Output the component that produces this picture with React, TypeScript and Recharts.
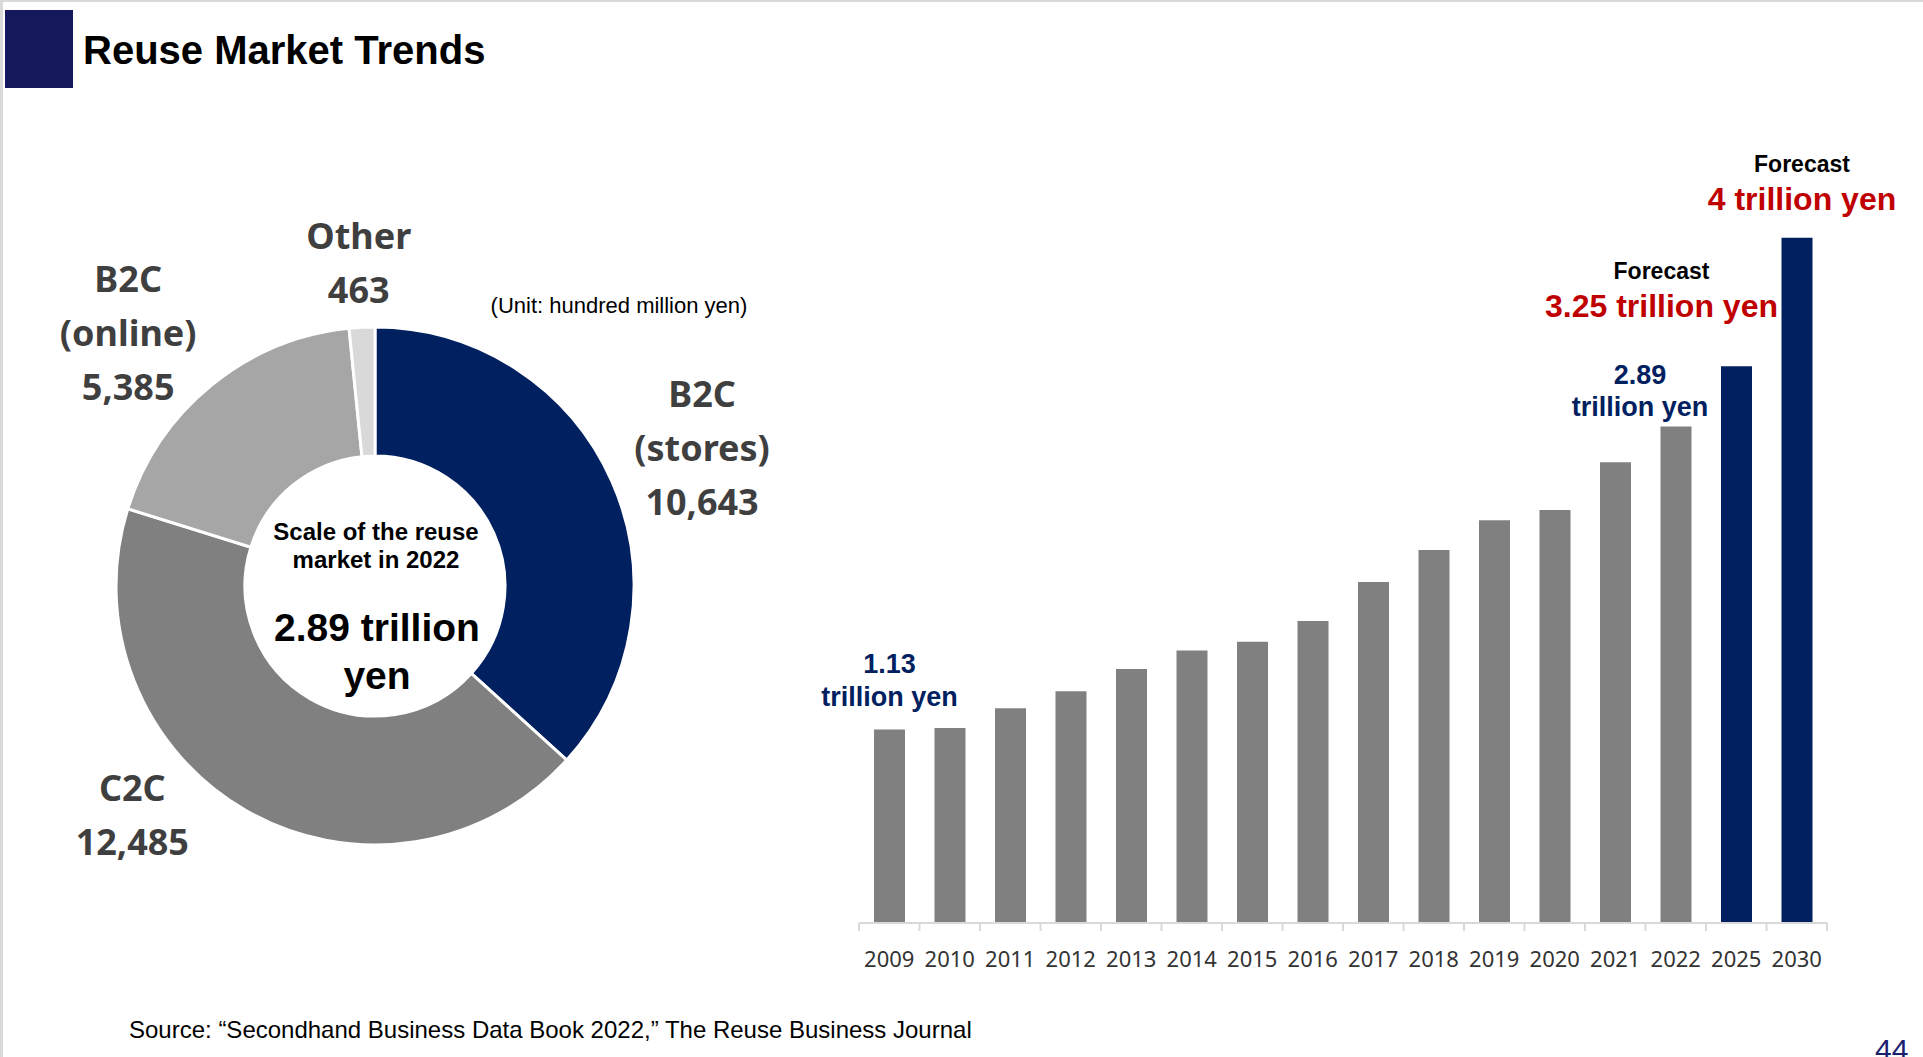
import React from 'react';
import { Bar, BarChart, Cell, LabelList, Pie, PieChart, XAxis, YAxis } from 'recharts';

// 2022 breakdown (unit: hundred million yen)
const segmentNames = ['B2C (stores)', 'C2C', 'B2C (online)', 'Other'];
const segmentValues = [10643, 12485, 5385, 463];

// market size by year (unit: hundred million yen)
const years = ['2009', '2010', '2011', '2012', '2013', '2014', '2015', '2016', '2017', '2018', '2019', '2020', '2021', '2022', '2025', '2030'];
const marketSize = [11300, 11380, 12540, 13520, 14830, 15900, 16410, 17630, 19900, 21770, 23500, 24100, 26890, 28976, 32500, 40000];
const forecastYears = ['2025', '2030'];

// callouts above bars
const noteYears = ['2009', '2022', '2025', '2030'];
const noteHeads = ['1.13', '2.89', 'Forecast', 'Forecast'];
const noteBodies = ['trillion yen', 'trillion yen', '3.25 trillion yen', '4 trillion yen'];

const NAVY = '#002060';
const GRAY = '#808080';
const RED = '#c00000';
const LABEL = '#3f3f3f';
const ARIAL = '"Liberation Sans", Arial, sans-serif';

const sliceColors: Record<string, string> = {
	'B2C (stores)': NAVY,
	C2C: '#808080',
	'B2C (online)': '#a6a6a6',
	Other: '#d9d9d9',
};

// where each slice label sits: distance from centre and tweak of the mid angle
const slicePlacement: Record<string, { r: number; shift: number }> = {
	'B2C (stores)': { r: 355, shift: -1 },
	C2C: { r: 333, shift: -17 },
	'B2C (online)': { r: 354, shift: 5 },
	Other: { r: 324, shift: 0 },
};

const noteLayout = [
	{ dx: 0, headDy: -65, bodyDy: -32, headSize: 27, bodySize: 27, headColor: NAVY, bodyColor: NAVY },
	{ dx: -36, headDy: -52, bodyDy: -20, headSize: 27, bodySize: 27, headColor: NAVY, bodyColor: NAVY },
	{ dx: -75, headDy: -95, bodyDy: -60, headSize: 23, bodySize: 32, headColor: '#000', bodyColor: RED },
	{ dx: 5, headDy: -74, bodyDy: -39, headSize: 23, bodySize: 32, headColor: '#000', bodyColor: RED },
];

const pieData = segmentNames.map((name, i) => ({ name, value: segmentValues[i] }));
const barData = years.map((year, i) => ({ year, size: marketSize[i] }));

const PLOT_W = 968;
const PLOT_H = 771;
const BAND = PLOT_W / years.length;
const PAD_L = 80;
const PAD_R = 96;
const PAD_T = 52;

const renderSliceLabel = (props: any) => {
	const { cx, cy, midAngle, name, value } = props;
	const place = slicePlacement[name];
	const a = ((midAngle + place.shift) * Math.PI) / 180;
	const x = cx + place.r * Math.cos(a);
	const y = cy - place.r * Math.sin(a);
	const parts = name.split(' ');
	const lines = [...parts, value.toLocaleString('en-US')];
	const lh = 54;
	const y0 = y - ((lines.length - 1) * lh) / 2;
	return (
		<text
			x={x}
			y={y0}
			textAnchor='middle'
			fill={LABEL}
			style={{ fontFamily: '"Noto Sans", sans-serif', fontWeight: 700, fontSize: 36 }}
		>
			{lines.map((t, i) => (
				<tspan key={i} x={x} y={y0 + i * lh} dominantBaseline='central'>
					{t}
				</tspan>
			))}
		</text>
	);
};

const renderTick = (props: any) => {
	const { x, y, payload, index } = props;
	const left = x - BAND / 2;
	return (
		<g>
			<line x1={left} x2={left} y1={y} y2={y + 8} stroke='#d9d9d9' strokeWidth={2} />
			{index === years.length - 1 && (
				<line x1={x + BAND / 2} x2={x + BAND / 2} y1={y} y2={y + 8} stroke='#d9d9d9' strokeWidth={2} />
			)}
			<text x={x} y={y + 44} textAnchor='middle' fill='#333' style={{ fontFamily: '"Noto Sans", sans-serif', fontSize: 22 }}>
				{payload.value}
			</text>
		</g>
	);
};

const renderNote = (props: any) => {
	const { x, y, width, index } = props;
	const k = noteYears.indexOf(years[index]);
	if (k < 0) return null;
	const lay = noteLayout[k];
	const cx = x + width / 2 + lay.dx;
	return (
		<g style={{ fontFamily: ARIAL, fontWeight: 700 }}>
			<text x={cx} y={y + lay.headDy} textAnchor='middle' dominantBaseline='central' fill={lay.headColor} fontSize={lay.headSize}>
				{noteHeads[k]}
			</text>
			<text x={cx} y={y + lay.bodyDy} textAnchor='middle' dominantBaseline='central' fill={lay.bodyColor} fontSize={lay.bodySize}>
				{noteBodies[k]}
			</text>
		</g>
	);
};

const App: React.FC = () => {
	return (
		<div
			style={{
				position: 'absolute',
				left: 0,
				top: 0,
				width: 1923,
				height: 1057,
				overflow: 'hidden',
				background: '#d9d9d9',
			}}
		>
			<div style={{ position: 'absolute', left: 3, top: 2, right: 0, bottom: 0, background: '#fff' }} />

			<div style={{ position: 'absolute', left: 0, top: 0 }}>
				<PieChart width={840} height={1000} margin={{ top: 0, right: 0, bottom: 0, left: 0 }}>
					<Pie
						data={pieData}
						dataKey='value'
						nameKey='name'
						cx={375}
						cy={586}
						innerRadius={130}
						outerRadius={259}
						startAngle={90}
						endAngle={-270}
						stroke='#fff'
						strokeWidth={3}
						label={renderSliceLabel}
						labelLine={false}
						isAnimationActive={false}
					>
						{pieData.map((d) => (
							<Cell key={d.name} fill={sliceColors[d.name]} />
						))}
					</Pie>
				</PieChart>
			</div>

			<div style={{ position: 'absolute', left: 859 - PAD_L, top: 152 - PAD_T }}>
				<BarChart
					width={PAD_L + PLOT_W + PAD_R}
					height={PAD_T + PLOT_H + 60}
					data={barData}
					margin={{ top: PAD_T, right: PAD_R, bottom: 0, left: PAD_L }}
				>
					<XAxis
						dataKey='year'
						height={60}
						tickSize={0}
						tickMargin={0}
						tickLine={false}
						axisLine={{ stroke: '#d9d9d9', strokeWidth: 2 }}
						tick={renderTick}
						interval={0}
					/>
					<YAxis hide width={0} domain={[0, 45000]} />
					<Bar dataKey='size' barSize={31} isAnimationActive={false}>
						{barData.map((d) => (
							<Cell key={d.year} fill={forecastYears.includes(d.year) ? NAVY : GRAY} />
						))}
						<LabelList dataKey='size' content={renderNote} />
					</Bar>
				</BarChart>
			</div>

			<svg width={1923} height={1057} style={{ position: 'absolute', left: 0, top: 0, pointerEvents: 'none' }}>
				<rect x={5} y={10} width={68} height={78} fill='#15185c' />
				<text x={83} y={64} fontFamily={ARIAL} fontWeight={700} fontSize={40} fill='#000'>
					Reuse Market Trends
				</text>
				<text x={619} y={305} textAnchor='middle' dominantBaseline='central' fontFamily={ARIAL} fontSize={22} fill='#000'>
					(Unit: hundred million yen)
				</text>
				<g fontFamily={ARIAL} fontWeight={700} textAnchor='middle' fill='#000'>
					<text x={376} y={531} dominantBaseline='central' fontSize={24}>
						Scale of the reuse
					</text>
					<text x={376} y={559} dominantBaseline='central' fontSize={24}>
						market in 2022
					</text>
					<text x={377} y={627} dominantBaseline='central' fontSize={39}>
						2.89 trillion
					</text>
					<text x={377} y={675} dominantBaseline='central' fontSize={39}>
						yen
					</text>
				</g>
				<text x={129} y={1029} dominantBaseline='central' fontFamily={ARIAL} fontSize={24} fill='#000'>
					Source: “Secondhand Business Data Book 2022,” The Reuse Business Journal
				</text>
				<text x={1875} y={1060} fontFamily={ARIAL} fontSize={30} fill='#1a1f6e'>
					44
				</text>
			</svg>
		</div>
	);
};

export default App;
